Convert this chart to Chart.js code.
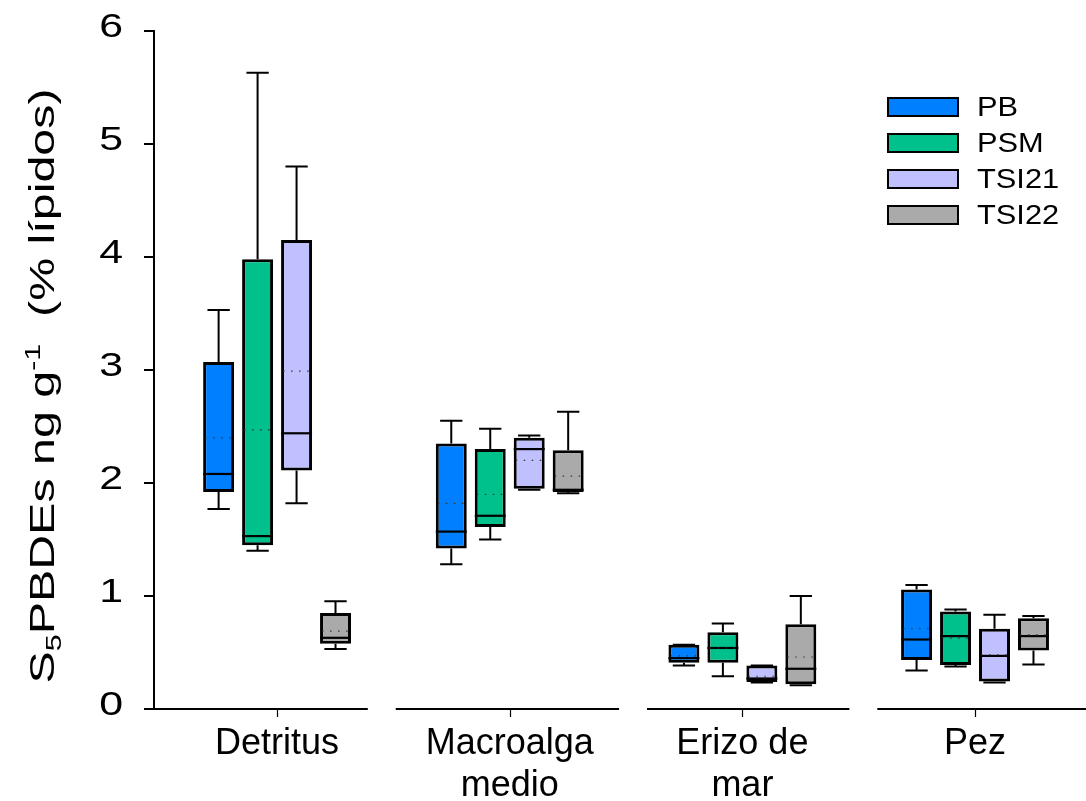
<!DOCTYPE html>
<html><head><meta charset="utf-8">
<script src="https://cdn.jsdelivr.net/npm/chart.js@4.4.0/dist/chart.umd.min.js"></script>
<style>html,body{margin:0;padding:0;background:#fff;overflow:hidden}#wrap{width:1086px;height:801px}</style>
</head><body><div id="wrap"><canvas id="c" width="1086" height="801"></canvas></div>
<script>
// ---- data (rows = series, columns = categories) ----
const categories = [["Detritus"], ["Macroalga", "medio"], ["Erizo de", "mar"], ["Pez"]];
const seriesNames = ["PB", "PSM", "TSI21", "TSI22"];
const seriesColors = ["#0080ff", "#00c08c", "#c0c0ff", "#aaaaaa"];
const whiskerLow  = [[1.77, 1.28, 0.385, 0.34], [1.40, 1.50, 0.29, 0.376], [1.82, 1.94, 0.235, 0.235], [0.53, 1.91, 0.21, 0.394]];
const boxLow      = [[1.92, 1.42, 0.41, 0.433], [1.45, 1.61, 0.41, 0.39], [2.11, 1.95, 0.24, 0.244], [0.577, 1.92, 0.22, 0.518]];
const medians     = [[2.08, 1.57, 0.45, 0.615], [1.53, 1.71, 0.54, 0.645], [2.44, 2.30, 0.27, 0.47], [0.63, 1.94, 0.356, 0.645]];
const boxHigh     = [[3.07, 2.35, 0.568, 1.057], [3.98, 2.30, 0.68, 0.862], [4.15, 2.40, 0.385, 0.71], [0.85, 2.29, 0.75, 0.804]];
const whiskerHigh = [[3.53, 2.55, 0.568, 1.098], [5.63, 2.48, 0.756, 0.88], [4.80, 2.42, 0.385, 0.833], [0.954, 2.63, 1.00, 0.824]];
const means       = [[2.40, 1.82, 0.47, 0.71], [2.47, 1.90, 0.54, 0.627], [2.99, 2.20, 0.29, 0.48], [0.69, 2.06, 0.46, 0.656]];
const yTicks = [0, 1, 2, 3, 4, 5, 6];
const axisGaps = [0.45, 1.53, 2.52]; // breaks in the x axis line (category units)

const FONT = '"Liberation Sans", Arial, sans-serif';

const datasets = seriesNames.map((name, i) => ({
  label: name,
  data: categories.map((c, j) => ({ x: j, y: [boxLow[i][j], boxHigh[i][j]] })),
  backgroundColor: seriesColors[i],
  borderColor: '#000',
  borderWidth: 3,
  borderSkipped: false,
  categoryPercentage: 0.67,
  barPercentage: 0.795
}));

const boxExtras = {
  id: 'boxExtras',
  beforeDatasetsDraw(chart) {
    const y = chart.scales.y, ctx = chart.ctx;
    ctx.save();
    ctx.strokeStyle = '#000';
    ctx.lineWidth = 2;
    chart.data.datasets.forEach((ds, i) => {
      chart.getDatasetMeta(i).data.forEach((bar, j) => {
        const cx = bar.x, ch = bar.width * 0.36;
        const lo = y.getPixelForValue(whiskerLow[i][j]), hi = y.getPixelForValue(whiskerHigh[i][j]);
        const b = y.getPixelForValue(boxLow[i][j]), t = y.getPixelForValue(boxHigh[i][j]);
        ctx.beginPath();
        ctx.moveTo(cx, t); ctx.lineTo(cx, hi);
        ctx.moveTo(cx - ch, hi); ctx.lineTo(cx + ch, hi);
        ctx.moveTo(cx, b); ctx.lineTo(cx, lo);
        ctx.moveTo(cx - ch, lo); ctx.lineTo(cx + ch, lo);
        ctx.stroke();
      });
    });
    ctx.restore();
  },
  afterDatasetsDraw(chart) {
    const y = chart.scales.y, ctx = chart.ctx;
    ctx.save();
    chart.data.datasets.forEach((ds, i) => {
      chart.getDatasetMeta(i).data.forEach((bar, j) => {
        const hw = bar.width / 2;
        const m = y.getPixelForValue(medians[i][j]);
        ctx.setLineDash([]);
        ctx.strokeStyle = '#000';
        ctx.lineWidth = 2.2;
        ctx.beginPath(); ctx.moveTo(bar.x - hw, m); ctx.lineTo(bar.x + hw, m); ctx.stroke();
        const mn = y.getPixelForValue(means[i][j]);
        ctx.setLineDash([1.5, 6.5]);
        ctx.strokeStyle = '#333';
        ctx.lineWidth = 1.2;
        ctx.beginPath(); ctx.moveTo(bar.x - hw + 2, mn); ctx.lineTo(bar.x + hw - 2, mn); ctx.stroke();
      });
    });
    ctx.restore();
  },
  afterDraw(chart) {
    const ctx = chart.ctx, x = chart.scales.x, y = chart.scales.y, area = chart.chartArea;
    ctx.save();
    // broken x axis line
    ctx.strokeStyle = '#000'; ctx.lineWidth = 2; ctx.setLineDash([]);
    const half = 0.06;
    let start = area.left;
    const yb = area.bottom;
    axisGaps.forEach(g => {
      ctx.beginPath(); ctx.moveTo(start, yb); ctx.lineTo(x.getPixelForValue(g - half), yb); ctx.stroke();
      start = x.getPixelForValue(g + half);
    });
    ctx.beginPath(); ctx.moveTo(start, yb); ctx.lineTo(area.right, yb); ctx.stroke();
    // small category ticks below the axis
    ctx.lineWidth = 1.2;
    categories.forEach((c, j) => {
      const px = Math.round(x.getPixelForValue(j)) + 0.5;
      ctx.beginPath(); ctx.moveTo(px, yb); ctx.lineTo(px, yb + 8); ctx.stroke();
    });

    // y tick labels (wide glyphs as in the reference)
    ctx.fillStyle = '#000';
    ctx.font = '33px ' + FONT;
    ctx.textAlign = 'right';
    ctx.textBaseline = 'middle';
    yTicks.forEach(v => {
      ctx.save();
      ctx.translate(area.left - 31, y.getPixelForValue(v) - 3);
      ctx.scale(1.3, 1);
      ctx.fillText(String(v), 0, 0);
      ctx.restore();
    });

    // legend
    ctx.textBaseline = 'middle';
    ctx.textAlign = 'left';
    seriesNames.forEach((n, i) => {
      const by = 98 + i * 36;
      ctx.fillStyle = seriesColors[i];
      ctx.fillRect(888, by, 70, 18);
      ctx.strokeStyle = '#000'; ctx.lineWidth = 2;
      ctx.strokeRect(888, by, 70, 18);
      ctx.fillStyle = '#000';
      ctx.save();
      ctx.translate(977, by + 10);
      ctx.scale(1.1, 1);
      ctx.font = '28px ' + FONT;
      ctx.fillText(n, 0, 0);
      ctx.restore();
    });

    // y title with sub/superscript
    const F = 35, S = 22;
    const parts = [
      { t: 'S', f: F, dy: 0 },
      { t: '5', f: S, dy: 7 },
      { t: 'PBDEs ng g', f: F, dy: 0 },
      { t: '-1', f: S, dy: -14 },
      { t: '  (% lípidos)', f: F, dy: 0 }
    ];
    let total = 0;
    parts.forEach(p => { ctx.font = p.f + 'px ' + FONT; p.w = ctx.measureText(p.t).width; total += p.w; });
    const span = 595, stretch = span / total;
    ctx.translate(42, 386);
    ctx.rotate(-Math.PI / 2);
    ctx.scale(stretch, 1);
    ctx.textBaseline = 'alphabetic';
    let cx = -total / 2;
    const base = 12;
    parts.forEach(p => {
      ctx.font = p.f + 'px ' + FONT;
      ctx.fillText(p.t, cx, base + p.dy);
      cx += p.w;
    });
    ctx.restore();
  }
};

new Chart(document.getElementById('c'), {
  type: 'bar',
  data: { datasets },
  options: {
    responsive: false,
    animation: false,
    layout: { padding: { top: 31, right: 0, left: 0, bottom: 0 } },
    plugins: { legend: { display: false }, tooltip: { enabled: false } },
    scales: {
      x: {
        type: 'linear',
        offset: false,
        min: -0.529,
        max: 3.477,
        afterFit: s => { s.height = 92; },
        afterBuildTicks: s => { s.ticks = categories.map((c, j) => ({ value: j })); },
        border: { display: false },
        grid: { display: false },
        ticks: {
          includeBounds: false,
          autoSkip: false,
          maxRotation: 0,
          padding: 6,
          color: '#000',
          font: { family: FONT, size: 36, lineHeight: 1.167 },
          callback: v => categories[v] || ''
        }
      },
      y: {
        min: 0,
        max: 6,
        afterFit: s => { s.width = 154; },
        afterBuildTicks: s => { s.ticks = yTicks.map(v => ({ value: v })); },
        border: { display: true, color: '#000', width: 2 },
        grid: { display: true, offset: false, drawOnChartArea: false, drawTicks: true, tickLength: 10, color: '#000', lineWidth: 2 },
        ticks: { display: false }
      }
    }
  },
  plugins: [boxExtras]
});
</script></body></html>
